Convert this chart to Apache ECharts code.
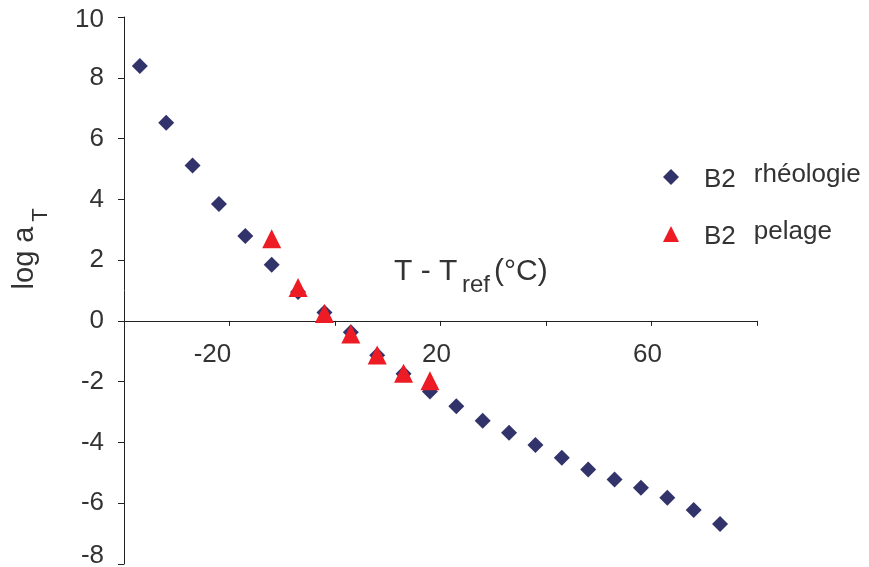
<!DOCTYPE html>
<html>
<head>
<meta charset="utf-8">
<script src="https://cdn.jsdelivr.net/npm/echarts@6/dist/echarts.min.js"></script>
<style>html,body{margin:0;padding:0;background:#fff;}#c{width:869px;height:567px;}</style>
</head>
<body>
<div id="c"></div>
<script>
// T - Tref (°C) for each series
var rheoX = [-37, -32, -27, -22, -17, -12, -7, -2, 3, 8, 13, 18, 23, 28, 33, 38, 43, 48, 53, 58, 63, 68, 73];
var rheoY = [8.39, 6.52, 5.11, 3.85, 2.79, 1.85, 0.95, 0.28, -0.37, -1.13, -1.74, -2.32, -2.81, -3.29, -3.68, -4.08, -4.5, -4.89, -5.22, -5.49, -5.82, -6.22, -6.68];
var pelX = [-12, -7, -2, 3, 8, 13, 18];
var pelY = [2.70, 1.10, 0.24, -0.43, -1.12, -1.72, -1.97];
var xTickLabels = [-20, 20, 60];
var seriesNames = ['B2 rhéologie', 'B2 pelage'];

var FONT = '"Liberation Sans", Arial, Helvetica, sans-serif';
var TXT = '#333333';

var GRID_TOP = 17, GRID_BOTTOM = 3, H = 567;
var Y_MIN = -8, Y_MAX = 10;
var plotH = H - GRID_TOP - GRID_BOTTOM;
// x axis sits where y = 0 (moved up from the bottom of the grid)
var zeroOffset = -plotH * (0 - Y_MIN) / (Y_MAX - Y_MIN);

function pairs(xs, ys) { return xs.map(function (x, i) { return [x, ys[i]]; }); }

var chart = echarts.init(document.getElementById('c'), null, { renderer: 'canvas' });
chart.setOption({
  animation: false,
  backgroundColor: '#ffffff',
  grid: { left: 124, top: GRID_TOP, right: 112, bottom: GRID_BOTTOM, containLabel: false, outerBoundsMode: 'none' },
  xAxis: {
    type: 'value', min: -40, max: 80, interval: 20,
    offset: zeroOffset,
    axisLine: { onZero: false, lineStyle: { color: '#222', width: 1 } },
    axisTick: { show: true, inside: false, length: 5, lineStyle: { color: '#222' } },
    splitLine: { show: false },
    axisLabel: {
      margin: 21, fontSize: 26, color: TXT, fontFamily: FONT,
      showMinLabel: true, showMaxLabel: true,
      formatter: function (v) {
        if (xTickLabels.indexOf(v) < 0) return '';
        return v < 0 ? '{m|' + v + '}' : '{n|' + v + '}';
      },
      rich: {
        m: { fontSize: 26, color: TXT, fontFamily: FONT, padding: [0, 34, 0, 0] },
        n: { fontSize: 26, color: TXT, fontFamily: FONT, padding: [0, 8, 0, 0] }
      }
    }
  },
  yAxis: {
    type: 'value', min: Y_MIN, max: Y_MAX, interval: 2,
    axisLine: { show: true, onZero: false, lineStyle: { color: '#222', width: 1 } },
    axisTick: { show: true, inside: false, length: 6, lineStyle: { color: '#222' } },
    splitLine: { show: false },
    axisLabel: {
      margin: 20, fontSize: 26, color: TXT, fontFamily: FONT,
      formatter: function (v) {
        if (v === Y_MIN) return '{lo|' + v + '}';
        if (v === Y_MAX) return '{hi|' + v + '}';
        return '{n|' + v + '}';
      },
      rich: {
        n: { fontSize: 26, color: TXT, fontFamily: FONT },
        lo: { fontSize: 26, color: TXT, fontFamily: FONT, padding: [0, 0, 16, 0] },
        hi: { fontSize: 26, color: TXT, fontFamily: FONT, padding: [6, 0, 0, 0] }
      }
    }
  },
  legend: {
    orient: 'vertical', left: 658, top: 157, itemWidth: 16, itemHeight: 16, itemGap: 26,
    textStyle: { fontSize: 26, color: TXT, fontFamily: FONT, padding: [0, 0, 0, 20],
      rich: {
        b: { fontSize: 26, color: TXT, fontFamily: FONT, padding: [6, 0, 0, 0] },
        r: { fontSize: 26, color: TXT, fontFamily: FONT, padding: [0, 0, 4, 18] }
      }
    },
    formatter: function (name) {
      var p = name.split(' ');
      return '{b|' + p[0] + '}{r|' + p.slice(1).join(' ') + '}';
    },
    data: [{ name: seriesNames[0], icon: 'diamond' }, { name: seriesNames[1], icon: 'triangle' }]
  },
  series: [
    { name: seriesNames[0], type: 'scatter', symbol: 'diamond', symbolSize: 16,
      itemStyle: { color: '#31336a', opacity: 1 }, data: pairs(rheoX, rheoY) },
    { name: seriesNames[1], type: 'scatter', symbol: 'triangle', symbolSize: [19, 19],
      itemStyle: { color: '#ed1c24', opacity: 1 }, data: pairs(pelX, pelY) }
  ],
  graphic: [
    { type: 'text', x: 394, y: 272, style: { text: 'T - T', fontSize: 30, fill: TXT, fontFamily: FONT, align: 'left', verticalAlign: 'middle' } },
    { type: 'text', x: 462, y: 285, style: { text: 'ref', fontSize: 24, fill: TXT, fontFamily: FONT, align: 'left', verticalAlign: 'middle' } },
    { type: 'text', x: 494, y: 272, style: { text: '(°C)', fontSize: 30, fill: TXT, fontFamily: FONT, align: 'left', verticalAlign: 'middle' } },
    { type: 'text', x: 25, y: 258, rotation: Math.PI / 2, style: { text: 'log a', fontSize: 29, fill: TXT, fontFamily: FONT, align: 'center', verticalAlign: 'middle' } },
    { type: 'text', x: 41, y: 215, rotation: Math.PI / 2, style: { text: 'T', fontSize: 22, fill: TXT, fontFamily: FONT, align: 'center', verticalAlign: 'middle' } }
  ]
});
</script>
</body>
</html>
